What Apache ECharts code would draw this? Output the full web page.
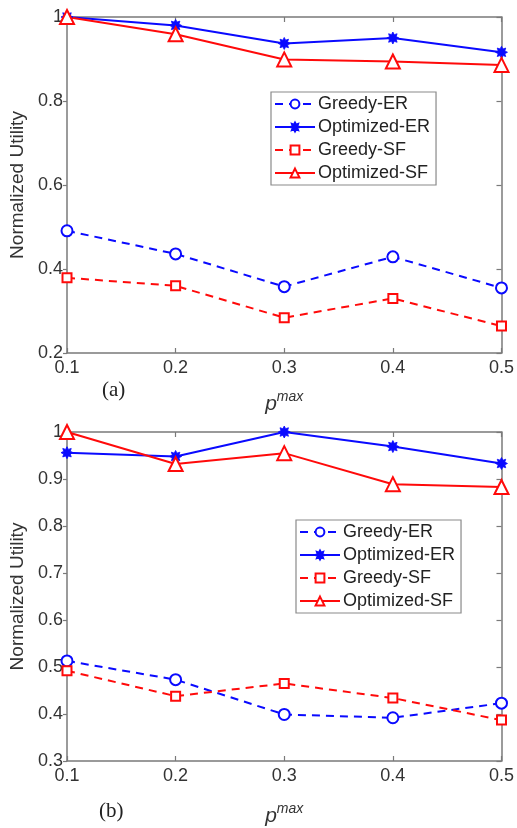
<!DOCTYPE html>
<html><head><meta charset="utf-8">
<script src="https://cdn.jsdelivr.net/npm/echarts@6/dist/echarts.min.js"></script>
<style>html,body{margin:0;padding:0;background:#fff}#c{width:517px;height:828px}</style>
</head><body><div id="c"></div>
<script>
const pmax = ['0.1', '0.2', '0.3', '0.4', '0.5'];
const seriesNames = ['Greedy-ER', 'Optimized-ER', 'Greedy-SF', 'Optimized-SF'];
// (a)
const a_greedyER = [0.491, 0.436, 0.358, 0.429, 0.355];
const a_optER    = [1.000, 0.980, 0.937, 0.950, 0.916];
const a_greedySF = [0.379, 0.360, 0.284, 0.330, 0.264];
const a_optSF    = [1.000, 0.959, 0.899, 0.894, 0.886];
// (b)
const b_greedyER = [0.513, 0.473, 0.399, 0.392, 0.423];
const b_optER    = [0.956, 0.948, 1.000, 0.969, 0.933];
const b_greedySF = [0.492, 0.438, 0.465, 0.434, 0.387];
const b_optSF    = [1.000, 0.932, 0.955, 0.889, 0.883];
const yTicksA = [0.2, 0.4, 0.6, 0.8, 1];
const yTicksB = [0.3, 0.4, 0.5, 0.6, 0.7, 0.8, 0.9, 1];

const BLUE = '#0a0aff', RED = '#ff0a0a', AX = '#7a7a7a', TXT = '#333333';
const STAR = 'path://M1,0 L0.55,0.23 L0.707,0.707 L0.23,0.55 L0,1 L-0.23,0.55 L-0.707,0.707 L-0.55,0.23 L-1,0 L-0.55,-0.23 L-0.707,-0.707 L-0.23,-0.55 L0,-1 L0.23,-0.55 L0.707,-0.707 L0.55,-0.23 Z';
const FONT = 'Liberation Sans';

const fmt = v => (Math.abs(v - 1) < 1e-9 ? '1' : v.toFixed(1));

function xAxes(gi) {
  return [{
    type: 'category', gridIndex: gi, data: pmax, boundaryGap: false,
    axisLine: { lineStyle: { color: AX, width: 1.5 } },
    axisTick: { inside: true, length: 5, lineStyle: { color: AX, width: 1.2 } },
    axisLabel: { fontFamily: FONT, fontSize: 18, color: TXT, margin: 6 },
    name: '{p|p}{m|max}', nameLocation: 'middle', nameGap: gi === 0 ? 37 : 41,
    nameTextStyle: { rich: {
      p: { fontFamily: FONT, fontStyle: 'italic', fontSize: 21, color: TXT, verticalAlign: 'bottom' },
      m: { fontFamily: FONT, fontStyle: 'italic', fontSize: 14, color: TXT, verticalAlign: 'bottom', padding: [0, 0, 11, 0] }
    } }
  }, {
    type: 'category', gridIndex: gi, data: pmax, boundaryGap: false, position: 'top',
    axisLine: { lineStyle: { color: AX, width: 1.5 } },
    axisTick: { inside: true, length: 5, lineStyle: { color: AX, width: 1.2 } },
    axisLabel: { show: false }
  }];
}
function yAxes(gi, ticks, interval) {
  return [{
    type: 'value', gridIndex: gi, min: ticks[0], max: ticks[ticks.length - 1], interval: interval,
    splitLine: { show: false },
    axisLine: { show: true, lineStyle: { color: AX, width: 1.5 } },
    axisTick: { show: true, inside: false, length: 4, lineStyle: { color: AX, width: 1.2 } },
    axisLabel: { fontFamily: FONT, fontSize: 18, color: TXT, margin: 4, formatter: fmt },
    name: 'Normalized Utility', nameLocation: 'middle', nameGap: 38,
    nameTextStyle: { fontFamily: FONT, fontSize: 19, color: TXT }
  }, {
    type: 'value', gridIndex: gi, min: ticks[0], max: ticks[ticks.length - 1], interval: interval,
    position: 'right', splitLine: { show: false },
    axisLine: { show: true, lineStyle: { color: AX, width: 1.5 } },
    axisTick: { show: true, inside: true, length: 5, lineStyle: { color: AX, width: 1.2 } },
    axisLabel: { show: false }
  }];
}
function mkSeries(xi, yi, ge, oe, gs, os) {
  const common = { xAxisIndex: xi, yAxisIndex: yi, animation: false, z: 3 };
  return [
    Object.assign({ type: 'line', name: seriesNames[0], data: ge, symbol: 'circle', symbolSize: 11,
      lineStyle: { color: BLUE, width: 2, type: [8, 6] },
      itemStyle: { color: '#fff', borderColor: BLUE, borderWidth: 2 } }, common),
    Object.assign({ type: 'line', name: seriesNames[1], data: oe, symbol: STAR, symbolSize: 12,
      lineStyle: { color: BLUE, width: 2, type: 'solid' },
      itemStyle: { color: BLUE, borderColor: BLUE, borderWidth: 0.8 } }, common),
    Object.assign({ type: 'line', name: seriesNames[2], data: gs, symbol: 'rect', symbolSize: 9,
      lineStyle: { color: RED, width: 2, type: [8, 6] },
      itemStyle: { color: '#fff', borderColor: RED, borderWidth: 2 } }, common),
    Object.assign({ type: 'line', name: seriesNames[3], data: os, symbol: 'triangle', symbolSize: 14,
      lineStyle: { color: RED, width: 2, type: 'solid' },
      itemStyle: { color: '#fff', borderColor: RED, borderWidth: 2 } }, common)
  ];
}
function legend(left, top) {
  return {
    data: seriesNames, orient: 'vertical', left: left, top: top,
    itemWidth: 40, itemHeight: 11, itemGap: 5,
    backgroundColor: '#fff', borderColor: '#8a8a8a', borderWidth: 1.2, borderRadius: 0,
    padding: [3, 6, 3, 3],
    textStyle: { fontFamily: FONT, fontSize: 18, color: '#222', padding: [0, 0, 0, -2] },
    selectedMode: false
  };
}

const chart = echarts.init(document.getElementById('c'), null, { renderer: 'canvas' });
chart.setOption({
  backgroundColor: '#fff',
  animation: false,
  grid: [
    { left: 67, right: 13, top: 17, height: 336 },
    { left: 67, right: 13, top: 432, height: 336 }
  ],
  xAxis: xAxes(0).concat(xAxes(1)),
  yAxis: yAxes(0, yTicksA, 0.2).concat(yAxes(1, yTicksB, 0.1)),
  legend: [legend(271, 92), legend(296, 520)],
  graphic: [
    { type: 'text', left: 102, top: 380, style: { text: '(a)', font: '21px "Liberation Serif"', fill: '#222' } },
    { type: 'text', left: 99, top: 801, style: { text: '(b)', font: '21px "Liberation Serif"', fill: '#222' } }
  ],
  series: mkSeries(0, 0, a_greedyER, a_optER, a_greedySF, a_optSF)
    .concat(mkSeries(2, 2, b_greedyER, b_optER, b_greedySF, b_optSF))
});
</script></body></html>
